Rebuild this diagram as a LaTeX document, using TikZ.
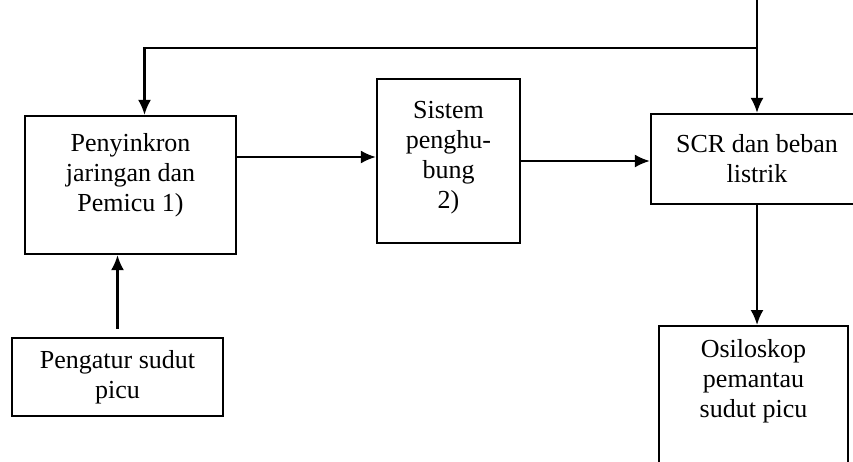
\documentclass[tikz,border=0pt]{standalone}
\usepackage{fontspec}
\setmainfont{Liberation Serif}
\usetikzlibrary{shapes,arrows.meta,positioning}
\tikzstyle{input} = [coordinate]
\tikzstyle{block} = [draw, rectangle, line width=2.2pt, align=center, inner sep=0pt,
    font=\fontsize{26pt}{30pt}\selectfont]
\tikzstyle{conn} = [line width=2.2pt]

\begin{document}
\begin{tikzpicture}[x=1pt, y=-1pt, >={Latex[length=15pt,width=13pt]}]
    \useasboundingbox (0,0) rectangle (853,461);
    % Define the nodes
    \node [block, minimum width=211, minimum height=138, text depth=26pt] (sync) at (130.5,185)
        {Penyinkron\\jaringan dan\\Pemicu 1)};
    \node [block, minimum width=143, minimum height=164, text depth=12pt] (hub) at (448.5,161)
        {Sistem\\penghu-\\bung\\2)};
    \node [block, minimum width=212, minimum height=90] (scr) at (757,159)
        {SCR dan beban\\listrik};
    \node [block, minimum width=211, minimum height=78] (angle) at (117.5,377)
        {Pengatur sudut\\picu};
    \node [block, minimum width=189, minimum height=160, anchor=north] (osk) at (753.5,325) {};
    \node [below=14pt of osk.north, align=center, inner sep=0pt,
        font=\fontsize{26pt}{30pt}\selectfont] (osktext) {Osiloskop\\pemantau\\sudut picu};
    \node [input] (src) at (757,0) {};
    \node [input] (split) at (757,48) {};
    % Connect the nodes
    \draw [conn, ->] (src) -- (scr.north);
    \draw [conn, ->] (split) -| ([xshift=14pt]sync.north);
    \draw [conn, ->] ([yshift=28pt]sync.east) -- ([yshift=28pt]sync.east -| hub.west);
    \draw [conn, ->] (hub.east) -- (hub.east -| scr.west);
    \draw [conn, ->] (scr.south) -- (scr.south |- osk.north);
    \draw [conn, ->, shorten <=8pt] (angle.north) -- (angle.north |- sync.south);
\end{tikzpicture}
\end{document}
